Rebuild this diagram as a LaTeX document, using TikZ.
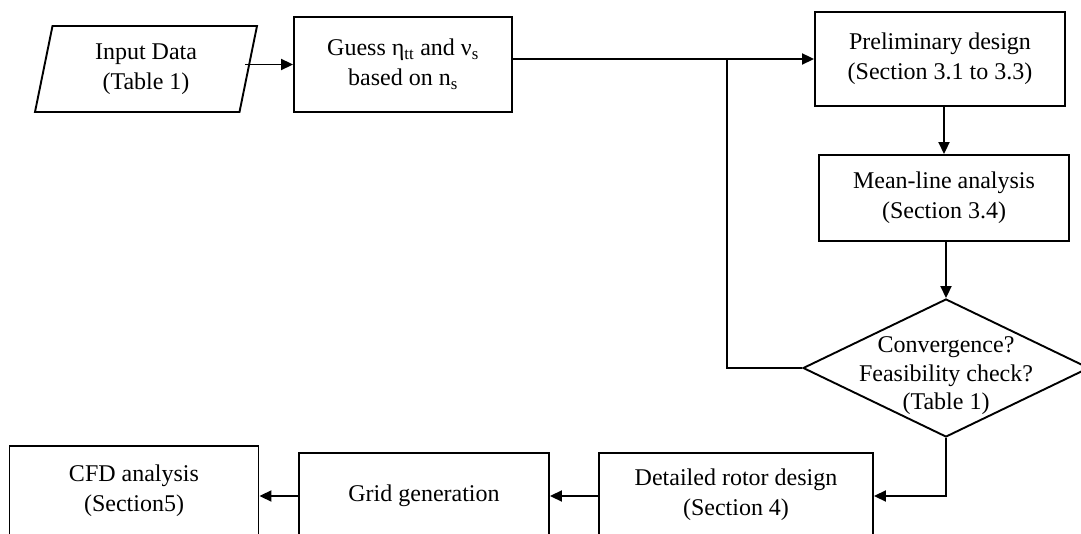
\documentclass[tikz,border=0pt]{standalone}
\usepackage{fontspec}
\setmainfont{Liberation Serif}
\usetikzlibrary{shapes.geometric,arrows.meta}

\tikzset{
    box/.style={draw,line width=1.9pt,rectangle,align=center,inner sep=0pt},
    inbox/.style={draw,line width=1.9pt,trapezium,trapezium left angle=71,
        trapezium right angle=109,trapezium stretches body,align=center,inner sep=0pt},
    decision/.style={draw,line width=1.9pt,diamond,inner sep=0pt},
    flow/.style={line width=1.9pt,-{Triangle[length=12pt,width=11pt]}},
    link/.style={line width=1.9pt}
}

\begin{document}
\begin{tikzpicture}[x=1pt,y=-1pt,font=\fontsize{24}{30}\selectfont]
    \useasboundingbox (0,0) rectangle (1081,534);
    \clip (0,0) rectangle (1081,534);

    % Blocchi superiori
    \node[inbox,minimum width=222pt,minimum height=86pt] (input) at (146,69) {Input Data\\(Table 1)};
    \node[box,minimum width=218pt,minimum height=95pt] (guess) at (403,64.5)
        {Guess η\textsubscript{tt} and ν\textsubscript{s}\\based on n\textsubscript{s}};
    \node[box,minimum width=250pt,minimum height=94pt] (prelim) at (940,59)
        {Preliminary design\\(Section 3.1 to 3.3)};
    \node[box,minimum width=250pt,minimum height=86pt] (meanline) at (944,198)
        {Mean-line analysis\\(Section 3.4)};

    % Controllo
    \node[decision,minimum width=286pt,minimum height=138pt] (check) at (946,368) {};
    \node[align=center,font=\fontsize{24}{28.5}\selectfont] (checktext) at (946,376)
        {Convergence?\\Feasibility check?\\(Table 1)};

    % Blocchi inferiori
    \node[box,minimum width=274pt,minimum height=83pt] (detail) at (736,494.5)
        {Detailed rotor design\\(Section 4)};
    \node[box,minimum width=250pt,minimum height=86pt] (grid) at (424,496) {Grid generation};
    \node[box,minimum width=249pt,minimum height=89pt] (cfd) at (134,490.5)
        {CFD analysis\\(Section5)};

    % Collegamenti
    \coordinate (junct) at (727,59);
    \draw[flow] ([xshift=-4pt]input.east |- guess.west) -- (guess.west);
    \draw[flow] (guess.east |- prelim.west) -- (prelim.west);
    \draw[flow] (meanline.north |- prelim.south) -- (meanline.north);
    \draw[flow] (check.north |- meanline.south) -- (check.north);
    % Ritorno
    \draw[link] (check.west) -| (junct);
    \draw[flow] (check.south) |- (detail.east |- grid.east);
    \draw[flow] (detail.west |- grid.east) -- (grid.east);
    \draw[flow] (grid.west) -- (grid.west -| cfd.east);
\end{tikzpicture}
\end{document}
